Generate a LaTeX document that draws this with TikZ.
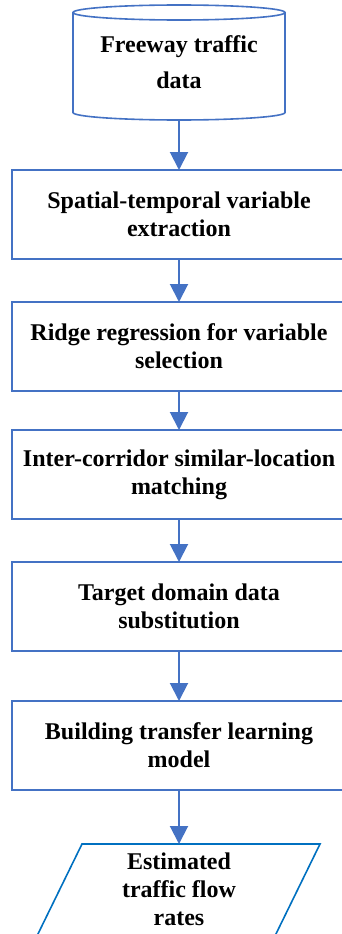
\documentclass[tikz,border=0pt]{standalone}
\usepackage{fontspec}
\setmainfont{Liberation Serif}
\usepackage{xcolor}
\usepackage{tikz}
\usetikzlibrary{arrows.meta,positioning}
\definecolor{flowblue}{HTML}{4472C4}
\definecolor{outblue}{HTML}{0070C0}
\tikzset{
  stepbox/.style ={rectangle, draw=flowblue, line width=1.6pt, outer sep=0pt,
                   minimum width=334pt, minimum height=89pt, align=center,
                   font=\fontsize{24}{28}\selectfont\bfseries},
  dbbox/.style   ={rectangle, outer sep=0pt, minimum width=212pt,
                   minimum height=115pt, align=center,
                   font=\fontsize{24}{36}\selectfont\bfseries},
  dbline/.style  ={draw=flowblue, line width=1.6pt},
  iobox/.style   ={rectangle, outer sep=0pt, minimum width=238pt,
                   minimum height=90pt, align=center,
                   font=\fontsize{24}{28}\selectfont\bfseries},
  ioline/.style  ={draw=outblue, line width=1.6pt, line join=miter},
  flow/.style    ={-{Triangle[length=18pt,width=18pt]}, line width=2pt, draw=flowblue}
}

\begin{document}
\begin{tikzpicture}
  \useasboundingbox (0,0) rectangle (342pt,-934pt);
  \node[dbbox]                      (db)      at (179pt,-62.5pt) {Freeway traffic\\data};
  \node[stepbox, below=50pt of db]      (extract) {Spatial-temporal variable\\extraction};
  \node[stepbox, below=43pt of extract] (ridge)   {Ridge regression for variable\\selection};
  \node[stepbox, below=39pt of ridge]   (match)   {Inter-corridor similar-location\\matching};
  \node[stepbox, below=43pt of match]   (subst)   {Target domain data\\substitution};
  \node[stepbox, below=50pt of subst]   (model)   {Building transfer learning\\model};
  \node[iobox, below=54pt of model]     (est)     {Estimated\\traffic flow\\rates};
  % cylinder outline
  \draw[dbline] ([yshift=-7.5pt]db.north west) -- ([yshift=7.5pt]db.south west)
    arc[start angle=180, end angle=360, x radius=106pt, y radius=7.5pt]
    -- ([yshift=-7.5pt]db.north east);
  \draw[dbline] ([yshift=-7.5pt]db.north) ellipse[x radius=106pt, y radius=7.5pt];
  % parallelogram outline (bottom runs off the page)
  \draw[ioline] ([xshift=22pt]est.north west) -- ([xshift=22pt]est.north east)
    -- ([xshift=-25pt,yshift=-6pt]est.south east) -- ([xshift=-25pt,yshift=-6pt]est.south west) -- cycle;
  \foreach \a/\b in {db/extract, extract/ridge, ridge/match, match/subst, subst/model, model/est}
    \draw[flow] (\a) -- (\b);
\end{tikzpicture}
\end{document}
